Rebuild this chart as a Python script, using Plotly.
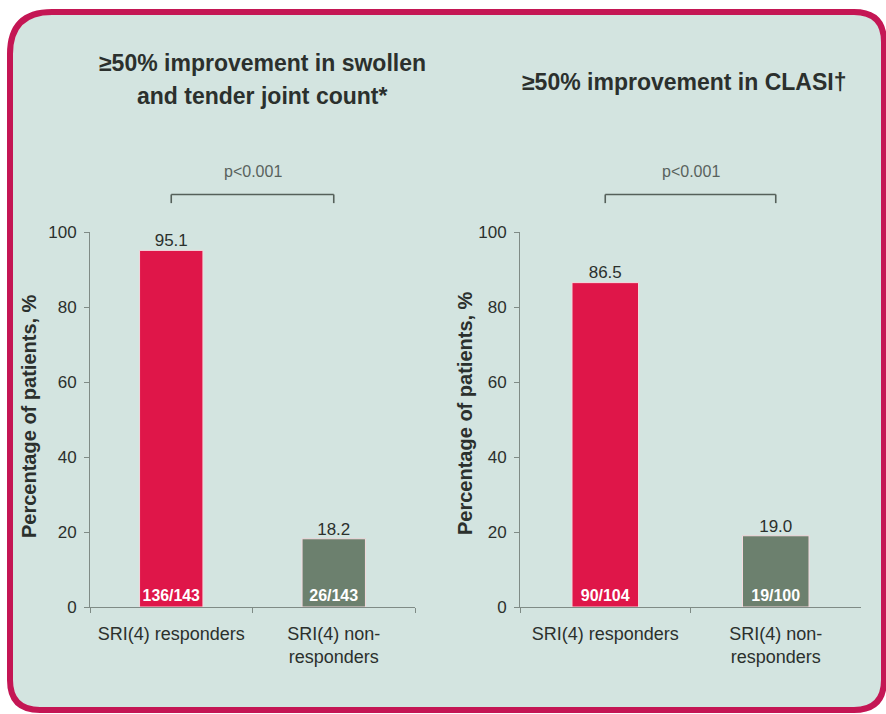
import plotly.graph_objects as go

# ---------------- data ----------------
categories = ["SRI(4) responders", "SRI(4) non-<br>responders"]
joint_pct = [95.1, 18.2]
joint_n = ["136/143", "26/143"]
clasi_pct = [86.5, 19.0]
clasi_n = ["90/104", "19/100"]
p_left = "p<0.001"
p_right = "p<0.001"
title_left_1 = "≥50% improvement in swollen"
title_left_2 = "and tender joint count*"
title_right = "≥50% improvement in CLASI†"
y_title = "Percentage of patients, %"
y_ticks = [0, 20, 40, 60, 80, 100]

# ---------------- style ----------------
W, H = 886, 714
FONT = "Liberation Sans, Arial, sans-serif"
TXT = "#2b302d"
BAR_COLORS = ["#df1649", "#6c806e"]
FRAME = "#c41654"
BG = "#d3e4e0"
AX = "#7f8b86"

def px(x):
    return x / W

def py(y):
    return 1 - y / H

fig = go.Figure()

panels = [
    ("x", "y", joint_pct, joint_n),
    ("x2", "y2", clasi_pct, clasi_n),
]
for xa, ya, vals, ns in panels:
    fig.add_trace(go.Bar(
        x=categories, y=vals, text=ns,
        xaxis=xa, yaxis=ya, width=0.39,
        marker=dict(color=BAR_COLORS, line=dict(color="#f3d9de", width=1)),
        textposition="inside", insidetextanchor="start", textangle=0,
        textfont=dict(family=FONT, size=16, color="white", weight="bold"),
        cliponaxis=False, showlegend=False, hoverinfo="skip",
    ))
    fig.add_trace(go.Scatter(
        x=categories, y=vals, text=[f"{v:.1f}" for v in vals],
        xaxis=xa, yaxis=ya, mode="text", textposition="top center",
        textfont=dict(family=FONT, size=17, color=TXT),
        cliponaxis=False, showlegend=False, hoverinfo="skip",
    ))

# rounded frame (slide border)
x0, y0, x1, y1 = px(10), py(12), px(884), py(710)
rx, ry = 42 / W, 42 / H
rx2, ry2 = 30 / W, 30 / H
path = (
    f"M {x0+rx},{y0} L {x1-rx2},{y0} Q {x1},{y0} {x1},{y0-ry2} "
    f"L {x1},{y1+ry2} Q {x1},{y1} {x1-rx2},{y1} "
    f"L {x0+rx2},{y1} Q {x0},{y1} {x0},{y1+ry2} "
    f"L {x0},{y0-ry} Q {x0},{y0} {x0+rx},{y0} Z"
)
shapes = [dict(type="path", path=path, xref="paper", yref="paper",
               fillcolor=BG, line=dict(color=FRAME, width=6), layer="below")]

# significance brackets
for xr, yr in (("x domain", "y domain"), ("x2 domain", "y2 domain")):
    shapes.append(dict(type="line", xref=xr, yref=yr, x0=0.25, x1=0.75,
                       y0=1.10, y1=1.10, line=dict(color="#55605a", width=1.6)))
    for xe in (0.25, 0.75):
        shapes.append(dict(type="line", xref=xr, yref=yr, x0=xe, x1=xe,
                           y0=1.10, y1=1.077, line=dict(color="#55605a", width=1.6)))

def ann(text, x, y, size, bold=False, angle=0, color=TXT, **kw):
    f = dict(family=FONT, size=size, color=color)
    if bold:
        f["weight"] = "bold"
    d = dict(text=text, x=x, y=y, showarrow=False, font=f, textangle=angle,
             xanchor="center", yanchor="middle")
    d.update(kw)
    return d

annotations = [
    ann(p_left, 0.5, 1.162, 16, color="#59625d", xref="x domain", yref="y domain"),
    ann(p_right, 0.5, 1.162, 16, color="#59625d", xref="x2 domain", yref="y2 domain"),
    ann(title_left_1, px(262), py(63), 23, bold=True, xref="paper", yref="paper"),
    ann(title_left_2, px(262), py(96), 23, bold=True, xref="paper", yref="paper"),
    ann(title_right, px(684), py(82), 23, bold=True, xref="paper", yref="paper"),
    ann(y_title, px(29), py(416), 20, bold=True, angle=-90, xref="paper", yref="paper"),
    ann(y_title, px(465), py(413), 20, bold=True, angle=-90, xref="paper", yref="paper"),
]

yax = dict(range=[0, 100], tickvals=y_ticks, ticks="outside", ticklen=5,
           tickcolor=AX, showline=True, linecolor=AX, linewidth=1,
           showgrid=False, zeroline=False, automargin=False,
           ticklabelstandoff=4,
           tickfont=dict(family=FONT, size=17, color=TXT))
xax = dict(type="category", showline=True, linecolor=AX, linewidth=1.2,
           ticks="outside", tickson="boundaries", ticklen=5, tickcolor=AX,
           showgrid=False, zeroline=False, automargin=False, tickangle=0,
           ticklabelstandoff=10,
           tickfont=dict(family=FONT, size=18, color=TXT))

fig.update_layout(
    width=W, height=H,
    margin=dict(l=0, r=0, t=0, b=0, pad=0, autoexpand=False),
    paper_bgcolor="white", plot_bgcolor="rgba(0,0,0,0)",
    xaxis=dict(xax, domain=[px(90), px(415)], anchor="y"),
    yaxis=dict(yax, domain=[py(607), py(232)], anchor="x"),
    xaxis2=dict(xax, domain=[px(520), px(861)], anchor="y2"),
    yaxis2=dict(yax, domain=[py(607), py(232)], anchor="x2"),
    shapes=shapes, annotations=annotations,
    showlegend=False,
)

fig.write_html("out.html")
